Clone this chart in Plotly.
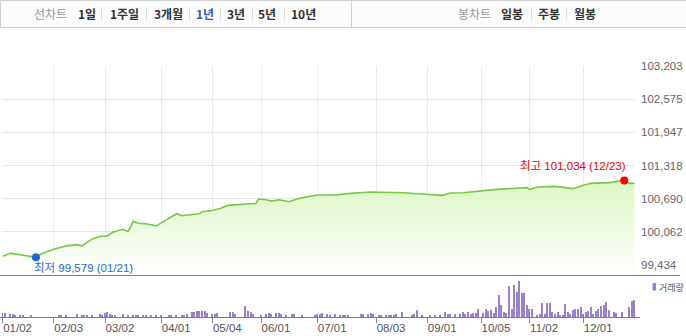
import pandas as pd
import plotly.graph_objects as go

# ---------------- data ----------------
holidays = ["2020-01-24", "2020-01-27", "2020-04-15", "2020-04-30", "2020-05-01",
            "2020-05-05", "2020-08-17", "2020-09-30", "2020-10-01", "2020-10-02",
            "2020-10-09", "2020-12-25"]
trading_days = pd.bdate_range("2020-01-02", "2020-12-30", freq="C", holidays=holidays)
day_index = {d.strftime("%m/%d"): i for i, d in enumerate(trading_days)}

tick_dates = ["01/02", "02/03", "03/02", "04/01", "05/04", "06/01",
              "07/01", "08/03", "09/01", "10/05", "11/02", "12/01"]
ytick_vals = [99434, 100062, 100690, 101318, 101947, 102575, 103203]
ytick_text = ["99,434", "100,062", "100,690", "101,318", "101,947", "102,575", "103,203"]

price_dates = ["01/02", "01/07", "01/13", "01/17", "01/21", "01/23", "02/03", "02/10",
               "02/14", "02/18", "02/24", "02/27", "03/03", "03/05", "03/10", "03/11",
               "03/13", "03/16", "03/17", "03/19", "03/24", "03/30", "04/01", "04/09",
               "04/13", "04/17", "04/23", "04/24", "05/04", "05/08", "05/13", "05/26",
               "05/28", "05/29", "06/03", "06/05", "06/10", "06/16", "06/19", "06/24",
               "07/01", "07/10", "07/20", "07/30", "08/05", "08/11", "08/19", "08/26",
               "09/03", "09/09", "09/14", "09/21", "10/14", "10/30", "11/02", "11/05",
               "11/16", "11/25", "12/01", "12/04", "12/15", "12/23", "12/28", "12/30"]
price_values = [99600, 99655, 99630, 99605, 99579, 99643, 99731, 99796,
                99820, 99796, 99929, 99973, 99986, 100054, 100087, 100111,
                100068, 100150, 100264, 100226, 100214, 100176, 100233, 100405,
                100367, 100386, 100405, 100443, 100467, 100505, 100563, 100595,
                100600, 100683, 100671, 100644, 100671, 100633, 100683, 100715,
                100759, 100759, 100791, 100816, 100816, 100804, 100804, 100785,
                100766, 100753, 100797, 100804, 100867, 100899, 100861, 100911,
                100924, 100880, 100943, 100981, 100994, 101034, 100981, 100981]

vol_dates = ["01/02", "01/03", "01/07", "01/08", "01/09", "01/13", "01/14", "01/17",
             "02/05", "02/06", "02/10", "02/14", "02/18", "02/19", "02/20", "02/24",
             "02/27", "02/28", "03/02", "03/03", "03/04", "03/05", "03/06", "03/11",
             "03/13", "03/17", "03/18", "03/19", "03/23", "03/24", "03/26", "03/30",
             "04/01", "04/06", "04/07", "04/09", "04/13", "04/14", "04/16", "04/20",
             "04/21", "04/22", "04/23", "04/24", "04/27", "04/28", "05/04", "05/06",
             "05/07", "05/14", "05/15", "05/18", "05/22", "05/25", "05/26", "05/27",
             "06/01", "06/03", "06/04", "06/05", "06/09", "06/10", "06/11", "06/15",
             "06/17", "06/18", "06/23", "06/30", "07/01", "07/02", "07/03", "07/07",
             "07/08", "07/10", "07/14", "07/15", "07/16", "07/17", "07/24", "07/27",
             "07/29", "07/30", "07/31", "08/04", "08/05", "08/07", "08/10", "08/11",
             "08/12", "08/13", "08/18", "08/24", "08/25", "08/26", "08/28", "09/02",
             "09/04", "09/08", "09/10", "09/11", "09/14", "09/16", "09/18", "09/21",
             "09/22", "09/23", "09/24", "09/25", "09/28", "09/29", "10/06", "10/07",
             "10/08", "10/12", "10/13", "10/14", "10/15", "10/16", "10/19", "10/20",
             "10/21", "10/22", "10/23", "10/26", "10/27", "10/28", "10/29", "10/30",
             "11/02", "11/03", "11/05", "11/06", "11/09", "11/10", "11/11", "11/12",
             "11/13", "11/16", "11/17", "11/18", "11/19", "11/20", "11/23", "11/24",
             "11/25", "11/26", "11/27", "11/30", "12/01", "12/02", "12/03", "12/04",
             "12/07", "12/08", "12/09", "12/10", "12/11", "12/14", "12/15", "12/17",
             "12/18", "12/22", "12/28", "12/29", "12/30"]
vol_values = [40, 33, 27, 23, 20, 17, 20, 13,
              17, 17, 17, 30, 17, 17, 17, 17,
              30, 17, 37, 43, 23, 17, 17, 30,
              17, 17, 17, 17, 17, 17, 17, 17,
              17, 20, 20, 20, 20, 20, 30, 47,
              50, 57, 57, 57, 57, 40, 23, 30,
              37, 43, 50, 30, 107, 57, 47, 30,
              20, 23, 37, 30, 40, 37, 30, 20,
              23, 23, 20, 17, 30, 23, 37, 30,
              20, 23, 20, 17, 17, 17, 27, 27,
              30, 37, 27, 17, 17, 17, 17, 17,
              17, 30, 47, 17, 30, 63, 20, 17,
              17, 17, 43, 30, 23, 30, 23, 43,
              23, 50, 30, 40, 37, 73, 40, 73,
              57, 70, 40, 103, 217, 117, 50, 37,
              307, 83, 323, 253, 363, 243, 237, 123,
              83, 83, 17, 23, 137, 30, 137, 143,
              50, 30, 50, 13, 17, 127, 47, 23,
              67, 73, 80, 103, 23, 43, 60, 103,
              27, 57, 77, 107, 120, 153, 63, 43,
              37, 43, 97, 163, 173]

# ---------------- geometry helpers (pixel -> paper) ----------------
W, H = 686, 336
ML, MR, MT, MB = 2, 51, 66, 19
PW, PH = W - ML - MR, H - MT - MB


def fx(px):
    return (px - ML) / PW


def fy(py):
    return (H - MB - py) / PH


split = fy(275)

px_idx = [day_index[d] for d in price_dates]
vx_idx = [day_index[d] for d in vol_dates]
tick_idx = [day_index[d] for d in tick_dates]

i_min = price_values.index(min(price_values))
i_max = price_values.index(max(price_values))

LINE = "#74c944"
PURPLE = "#9a80cf"
NUMFONT = "Liberation Sans, Noto Sans CJK KR, sans-serif"
KRFONT = "Noto Sans CJK KR, sans-serif"

fig = go.Figure()
fig.add_trace(go.Scatter(
    x=px_idx, y=price_values, mode="lines",
    line=dict(color=LINE, width=1.6),
    fill="tozeroy",
    fillgradient=dict(type="vertical", start=99245, stop=max(price_values),
                      colorscale=[[0, "rgba(255,255,255,1)"], [1, "#dcf6c4"]]),
    xaxis="x", yaxis="y", hoverinfo="skip"))
fig.add_trace(go.Scatter(
    x=[px_idx[i_min]], y=[price_values[i_min]], mode="markers",
    marker=dict(color="#1f63d6", size=8), xaxis="x", yaxis="y", hoverinfo="skip"))
fig.add_trace(go.Scatter(
    x=[px_idx[i_max]], y=[price_values[i_max]], mode="markers",
    marker=dict(color="#ff0000", size=8), xaxis="x", yaxis="y", hoverinfo="skip"))
fig.add_trace(go.Bar(
    x=vx_idx, y=vol_values, marker=dict(color=PURPLE, line=dict(width=0)),
    width=0.55, xaxis="x2", yaxis="y2", hoverinfo="skip"))

xr = [-0.27, 247.2]
fig.update_layout(
    width=W, height=H, margin=dict(l=ML, r=MR, t=MT, b=MB, pad=0),
    paper_bgcolor="white", plot_bgcolor="rgba(0,0,0,0)", showlegend=False,
    font=dict(family=NUMFONT, size=12, color="#555"),
    bargap=0,
    xaxis=dict(domain=[0, 1], range=xr, anchor="y", tickvals=tick_idx,
               showticklabels=False, ticks="", showgrid=True, gridcolor="#ebebeb",
               gridwidth=1, zeroline=False, showline=False, fixedrange=True),
    yaxis=dict(domain=[split, 1], range=[99245, 103203], side="right",
               tickvals=ytick_vals, ticktext=ytick_text, ticks="",
               ticklabelstandoff=5,
               tickfont=dict(family=NUMFONT, size=11.5, color="#666"),
               showgrid=True, gridcolor="#e6e6e6", zeroline=False, showline=False),
    xaxis2=dict(domain=[0, 1], range=xr, anchor="y2", matches="x",
                tickvals=tick_idx, ticktext=tick_dates, ticks="outside", ticklen=5,
                tickcolor="#888", tickwidth=1, ticklabelposition="outside right",
                tickfont=dict(family=NUMFONT, size=11.5, color="#555"),
                showgrid=False, zeroline=False, showline=False),
    yaxis2=dict(domain=[0, split - 0.001], range=[0, 420], showticklabels=False,
                showgrid=False, zeroline=False, showline=False, ticks=""),
)

shapes = []
# top toolbar box
shapes.append(dict(type="rect", xref="paper", yref="paper",
                   x0=fx(0.5), x1=fx(690), y0=fy(0.5), y1=fy(27.5),
                   line=dict(color="#cfcfcf", width=1), fillcolor="#fbfbfb", layer="below"))
shapes.append(dict(type="line", xref="paper", yref="paper",
                   x0=fx(351.5), x1=fx(351.5), y0=fy(0.5), y1=fy(27.5),
                   line=dict(color="#cfcfcf", width=1)))
for sx in [101, 146, 189, 220, 252, 284, 531, 566]:
    shapes.append(dict(type="line", xref="paper", yref="paper",
                       x0=fx(sx + 0.5), x1=fx(sx + 0.5), y0=fy(8), y1=fy(20),
                       line=dict(color="#dddddd", width=1)))
# panel separator and volume baseline
shapes.append(dict(type="line", xref="paper", yref="paper",
                   x0=fx(0), x1=fx(680), y0=fy(275.5), y1=fy(275.5),
                   line=dict(color="#7b7b7b", width=1)))
shapes.append(dict(type="line", xref="paper", yref="paper",
                   x0=fx(0), x1=fx(640), y0=fy(317.5), y1=fy(317.5),
                   line=dict(color="#7b7b7b", width=1)))
# volume legend swatch
shapes.append(dict(type="rect", xref="paper", yref="paper",
                   x0=fx(652.5), x1=fx(656), y0=fy(283), y1=fy(290.5),
                   line=dict(width=0), fillcolor=PURPLE))
fig.update_layout(shapes=shapes)

ann = []
toolbar = [("선차트", 50, "#999999", False), ("1일", 87, "#333333", True),
           ("1주일", 124, "#333333", True), ("3개월", 168, "#333333", True),
           ("1년", 205, "#3a58b5", True), ("3년", 236, "#333333", True),
           ("5년", 267, "#333333", True), ("10년", 303, "#333333", True),
           ("봉차트", 474, "#999999", False), ("일봉", 512, "#333333", True),
           ("주봉", 549, "#333333", True), ("월봉", 585, "#333333", True)]
for label, cx, col, bold in toolbar:
    ann.append(dict(xref="paper", yref="paper", x=fx(cx), y=fy(14), text=(f"<b>{label}</b>" if bold else label),
                    showarrow=False, xanchor="center", yanchor="middle",
                    font=dict(family=KRFONT, size=12, color=col)))

ann.append(dict(xref="x", yref="y", x=px_idx[i_max], y=price_values[i_max],
                text=f"최고 {price_values[i_max]:,} ({price_dates[i_max]})",
                showarrow=False, xanchor="right", yanchor="middle", xshift=4, yshift=15,
                font=dict(family=NUMFONT, size=11.5, color="#ee0000")))
ann.append(dict(xref="x", yref="y", x=px_idx[i_min], y=price_values[i_min],
                text=f"최저 {price_values[i_min]:,} ({price_dates[i_min]})",
                showarrow=False, xanchor="left", yanchor="middle", xshift=-4, yshift=-11,
                font=dict(family=NUMFONT, size=11.5, color="#2a6ad0")))
ann.append(dict(xref="paper", yref="paper", x=fx(657.5), y=fy(287), text="거래량",
                showarrow=False, xanchor="left", yanchor="middle", borderpad=0,
                font=dict(family=KRFONT, size=9, color="#555")))
fig.update_layout(annotations=ann)

fig.write_html("out.html")
